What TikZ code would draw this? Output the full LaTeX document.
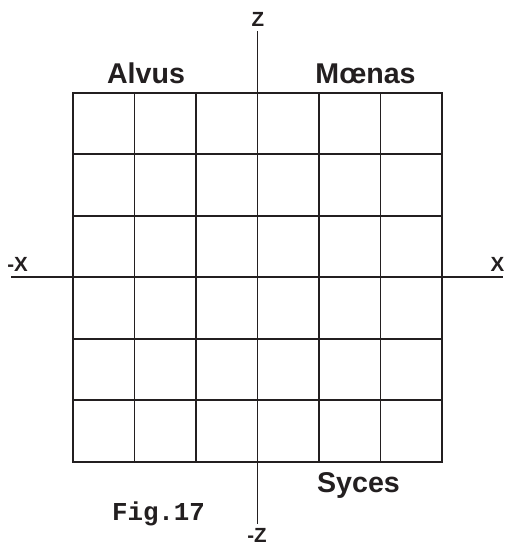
\documentclass[tikz,border=0pt]{standalone}
\usepackage{fontspec}
\setmainfont{Liberation Sans}
\newfontfamily\monofont{Liberation Mono}
\definecolor{ink}{HTML}{231F20}
\begin{document}
\begin{tikzpicture}[x=1pt,y=-1pt,
  lbl/.style={font=\bfseries\fontsize{28.6}{30}\selectfont,text=ink,anchor=base,inner sep=0pt},
  axlbl/.style={font=\bfseries\fontsize{20.5}{22}\selectfont,text=ink,anchor=base,inner sep=0pt},
  gridline/.style={draw=ink,line width=1.8pt},
  axisline/.style={draw=ink,line width=1.6pt}]
\useasboundingbox (0,0) rectangle (508,546);
% grid
\foreach \i in {0,...,6} {
  \draw[gridline] (73+61.5*\i,92.7) -- (73+61.5*\i,461.7);
  \draw[gridline] (73,92.7+61.5*\i) -- (442,92.7+61.5*\i);
}
\draw[gridline] (73,92.7) rectangle (442,461.7);
% axes
\coordinate (xl) at (11,277.2);
\coordinate (xr) at (503,277.2);
\coordinate (zt) at (257.3,31);
\coordinate (zb) at (257.3,524);
\draw[axisline] (xl) -- (xr);
\draw[axisline] (zt) -- (zb);
% axis labels
\node[axlbl] (zlab) at (258,27) {Z};
\node[axlbl] (mzlab) at (257,542.5) {-Z};
\node[axlbl] (mxlab) at (17.5,271.5) {-X};
\node[axlbl] (xlab) at (497.5,271.5) {X};
% region labels
\node[lbl] (alvus) at (146,83) {Alvus};
\node[lbl] (moenas) at (365.5,83) {Mœnas};
\node[lbl] (syces) at (358.5,492) {Syces};
\node[font=\monofont\bfseries\fontsize{25.8}{27}\selectfont,text=ink,anchor=base,inner sep=0pt] (fig) at (158.5,520) {Fig.17};
\end{tikzpicture}
\end{document}
